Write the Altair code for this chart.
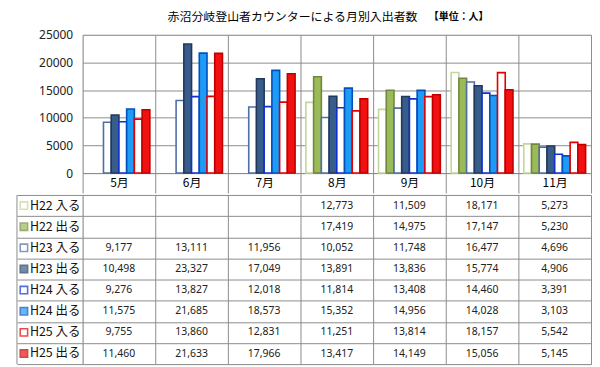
import altair as alt
import pandas as pd

months = ["5月", "6月", "7月", "8月", "9月", "10月", "11月"]
series = ["H22 入る", "H22 出る", "H23 入る", "H23 出る", "H24 入る", "H24 出る", "H25 入る", "H25 出る"]

h22_in = [None, None, None, 12773, 11509, 18171, 5273]
h22_out = [None, None, None, 17419, 14975, 17147, 5230]
h23_in = [9177, 13111, 11956, 10052, 11748, 16477, 4696]
h23_out = [10498, 23327, 17049, 13891, 13836, 15774, 4906]
h24_in = [9276, 13827, 12018, 11814, 13408, 14460, 3391]
h24_out = [11575, 21685, 18573, 15352, 14956, 14028, 3103]
h25_in = [9755, 13860, 12831, 11251, 13814, 18157, 5542]
h25_out = [11460, 21633, 17966, 13417, 14149, 15056, 5145]

title_main = "赤沼分岐登山者カウンターによる月別入出者数"
title_unit = "【単位：人】"

fills = ["#FFFFFF", "#9BBB59", "#FFFFFF", "#385D8A", "#FFFFFF", "#1E9BF5", "#FFFFFF", "#F21010"]
strokes = ["#C3D69B", "#71893F", "#4F6FA5", "#23395B", "#1030D0", "#0050C0", "#E00000", "#C00000"]

all_values = [h22_in, h22_out, h23_in, h23_out, h24_in, h24_out, h25_in, h25_out]
rows = []
for s, vals in zip(series, all_values):
    for m, v in zip(months, vals):
        if v is not None:
            rows.append({"month": m, "series": s, "value": v})
df = pd.DataFrame(rows)
legend_df = pd.DataFrame({"series": series})

GRID = "#8C8C8C"
W = 511
FONT = "Noto Sans"
JP = "Noto Sans CJK JP"

fill_scale = alt.Scale(domain=series, range=fills)
stroke_scale = alt.Scale(domain=series, range=strokes)

bars = alt.Chart(df).mark_bar(strokeWidth=1.6).encode(
    x=alt.X("month:N", sort=months, title=None,
            scale=alt.Scale(paddingInner=0, paddingOuter=0),
            axis=alt.Axis(tickBand="extent", grid=True, gridColor=GRID, ticks=True, tickSize=20,
                          tickColor=GRID, domainColor=GRID, labelPadding=-16, labelAngle=0,
                          labelFont=JP, labelFontSize=12, labelColor="#000000")),
    xOffset=alt.XOffset("series:N", sort=series,
                        scale=alt.Scale(domain=series, paddingInner=0, paddingOuter=0.7)),
    y=alt.Y("value:Q", title=None,
            scale=alt.Scale(domain=[0, 25000], nice=False),
            axis=alt.Axis(values=[0, 5000, 10000, 15000, 20000, 25000], format="d", ticks=False,
                          domain=False, grid=True, gridColor=GRID, labelPadding=10,
                          labelFont=FONT, labelFontSize=12, labelColor="#222222")),
    fill=alt.Fill("series:N", scale=fill_scale, legend=None),
    stroke=alt.Stroke("series:N", scale=stroke_scale, legend=None),
)

main_title = alt.Chart(alt.Data(values=[{"t": title_main}])).mark_text(
    align="center", baseline="middle", font=JP, fontSize=12, color="#000000"
).encode(text="t:N", x=alt.value(211), y=alt.value(-18))

unit = alt.Chart(alt.Data(values=[{"t": title_unit}])).mark_text(
    align="left", baseline="middle", font=JP, fontSize=10, fontWeight="bold", color="#000000"
).encode(text="t:N", x=alt.value(348), y=alt.value(-18))

top = alt.layer(bars, main_title, unit).properties(width=W, height=139)

cells = alt.Chart(df).mark_text(font=FONT, fontSize=10.5, color="#222222").encode(
    x=alt.X("month:N", sort=months, title=None,
            scale=alt.Scale(domain=months, paddingInner=0, paddingOuter=0),
            axis=alt.Axis(tickBand="extent", grid=True, gridColor=GRID, ticks=False, labels=False,
                          domain=False)),
    y=alt.Y("series:N", sort=series, title=None,
            scale=alt.Scale(domain=series, paddingInner=0, paddingOuter=0),
            axis=alt.Axis(tickBand="extent", grid=True, gridColor=GRID, ticks=True, tickSize=66,
                          tickColor=GRID, labels=False, domain=False)),
    text=alt.Text("value:Q", format=",d"),
)

squares = alt.Chart(legend_df).mark_point(shape="square", size=55, filled=True, strokeWidth=1.6).encode(
    x=alt.value(-59),
    y=alt.Y("series:N", sort=series, scale=alt.Scale(domain=series, paddingInner=0, paddingOuter=0)),
    fill=alt.Fill("series:N", scale=fill_scale, legend=None),
    stroke=alt.Stroke("series:N", scale=stroke_scale, legend=None),
)

labels = alt.Chart(legend_df).mark_text(align="left", baseline="middle", font=JP, fontSize=12.5,
                                         color="#111111").encode(
    x=alt.value(-53),
    y=alt.Y("series:N", sort=series, scale=alt.Scale(domain=series, paddingInner=0, paddingOuter=0)),
    text="series:N",
)

left_border = alt.Chart(alt.Data(values=[{}])).mark_rule(color=GRID).encode(
    x=alt.value(-66), y=alt.value(0), y2=alt.value(170)
)

table = alt.layer(cells, squares, labels, left_border).properties(width=W, height=170)

chart = alt.vconcat(top, table, spacing=0).resolve_scale(fill="shared", stroke="shared").properties(
    padding={"left": 8, "top": 1, "right": 0, "bottom": 0}
).configure_view(stroke=GRID).configure(background="#FFFFFF")

chart.save("out.html", embed_options={"renderer": "svg", "actions": False})
